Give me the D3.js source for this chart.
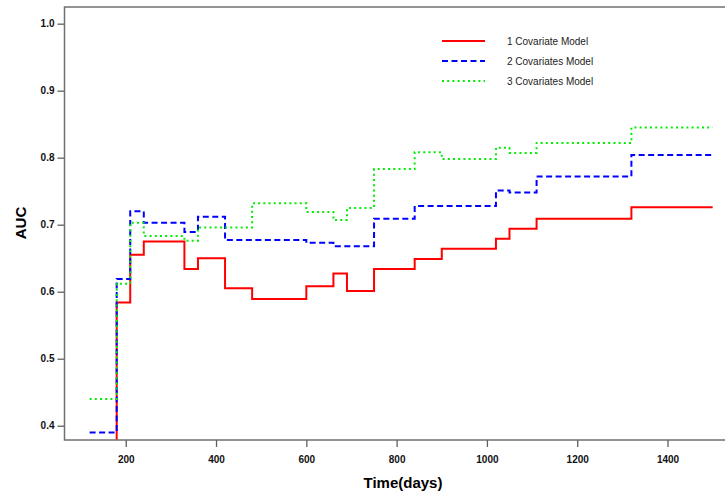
<!DOCTYPE html>
<html>

<head>
    <meta charset="utf-8">
    <style>
        body {
            margin: 0;
            background: white;
        }

        svg {
            display: block;
            font-family: 'Liberation Sans', Arial, sans-serif;
        }

        .tick text {
            font-weight: bold;
            font-size: 10px;
        }

        .axis-title {
            font-weight: bold;
            font-size: 15px;
        }

        .legend text {
            font-size: 10px;
        }
    </style>
</head>

<body>
    <svg width="725" height="494"></svg>
</body>

<script src="https://d3js.org/d3.v7.min.js"></script>

<script>
    // step change points (days) and AUC per model
    let times = [120, 180, 210, 240, 330, 360, 420, 480, 600, 660, 690, 750, 840, 900, 1020, 1050, 1110, 1320, 1500]
    let auc1 = [0.30, 0.584, 0.655, 0.675, 0.634, 0.650, 0.605, 0.589, 0.608, 0.627, 0.601, 0.634, 0.649, 0.664, 0.679, 0.694, 0.709, 0.726, 0.726]
    let auc2 = [0.390, 0.619, 0.720, 0.703, 0.689, 0.712, 0.677, 0.677, 0.673, 0.668, 0.668, 0.709, 0.728, 0.728, 0.751, 0.748, 0.772, 0.804, 0.804]
    let auc3 = [0.440, 0.612, 0.703, 0.683, 0.676, 0.696, 0.696, 0.732, 0.719, 0.707, 0.725, 0.783, 0.808, 0.798, 0.815, 0.807, 0.822, 0.845, 0.845]

    let seriesNames = ["1 Covariate Model", "2 Covariates Model", "3 Covariates Model"]
    let xTicks = [200, 400, 600, 800, 1000, 1200, 1400]
    let yTicks = [0.4, 0.5, 0.6, 0.7, 0.8, 0.9, 1.0]

    let svg = d3.select('svg')

    // plot box (right edge runs off the picture, as in the original)
    let margin = { top: 7, left: 64.5, bottom: 440 }
    let boxRight = 740

    let x = d3.scaleLinear()
        .domain([64.4, 64.4 + (boxRight - margin.left) / 0.4515])
        .range([margin.left, boxRight])

    let y = d3.scaleLinear()
        .domain([0.3787, 1.0249])
        .range([margin.bottom, margin.top])

    svg.append("clipPath")
        .attr("id", "plot-clip")
        .append("rect")
        .attr("x", margin.left)
        .attr("y", margin.top)
        .attr("width", boxRight - margin.left)
        .attr("height", margin.bottom - margin.top)

    let styles = [
        { color: "#ff0000", dash: null },
        { color: "#0000ff", dash: "6,3.5" },
        { color: "#00ee00", dash: "2,3.2" }
    ]

    let line = d3.line()
        .x(d => x(d.t))
        .y(d => y(d.v))
        .curve(d3.curveStepAfter)

    let series = [auc1, auc2, auc3].map((vals, i) => ({
        name: seriesNames[i],
        style: styles[i],
        points: times.map((t, j) => ({ t: t, v: vals[j] }))
    }))

    svg.append("g")
        .attr("clip-path", "url(#plot-clip)")
        .selectAll("path")
        .data(series)
        .join("path")
        .attr("d", d => line(d.points))
        .attr("fill", "none")
        .attr("stroke", d => d.style.color)
        .attr("stroke-width", 2)
        .attr("stroke-dasharray", d => d.style.dash)

    // box
    svg.append("rect")
        .attr("x", margin.left)
        .attr("y", margin.top)
        .attr("width", boxRight - margin.left)
        .attr("height", margin.bottom - margin.top)
        .attr("fill", "none")
        .attr("stroke", "#707070")
        .attr("stroke-width", 1.5)

    let xAxis = svg.append("g")
        .attr("class", "x")
        .attr("transform", `translate(0,${margin.bottom})`)
        .call(d3.axisBottom(x).tickValues(xTicks).tickSize(7).tickPadding(9).tickFormat(d3.format("d")))

    let yAxis = svg.append("g")
        .attr("class", "y")
        .attr("transform", `translate(${margin.left},0)`)
        .call(d3.axisLeft(y).tickValues(yTicks).tickSize(7).tickPadding(3).tickFormat(d3.format(".1f")))

    svg.selectAll(".domain").remove()
    svg.selectAll(".tick line").attr("stroke", "#606060").attr("stroke-width", 1.3)
    svg.selectAll(".tick text").attr("fill", "#111")

    svg.append("text")
        .attr("class", "axis-title")
        .attr("x", 403)
        .attr("y", 488)
        .attr("text-anchor", "middle")
        .text("Time(days)")

    svg.append("text")
        .attr("class", "axis-title")
        .attr("transform", "translate(26,223) rotate(-90)")
        .attr("text-anchor", "middle")
        .text("AUC")

    // legend
    let legend = svg.append("g")
        .attr("class", "legend")
        .selectAll("g")
        .data(series)
        .join("g")
        .attr("transform", (d, i) => `translate(442,${41 + i * 20})`)

    legend.append("line")
        .attr("x1", 0)
        .attr("x2", 43)
        .attr("stroke", d => d.style.color)
        .attr("stroke-width", 2)
        .attr("stroke-dasharray", d => d.style.dash)

    legend.append("text")
        .attr("x", 65)
        .attr("y", 4)
        .attr("fill", "#222")
        .text(d => d.name)
</script>

</html>
